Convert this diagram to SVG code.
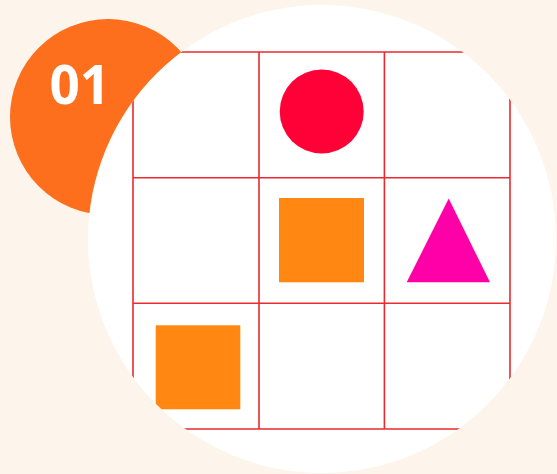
<svg xmlns="http://www.w3.org/2000/svg" width="557" height="474" viewBox="0 0 557 474">
<defs>
<style>
.bg{fill:#FDF5EB}
.grid line{stroke:#EA2A2E;stroke-width:1.6}
.num{font-family:"Open Sans","Noto Sans",sans-serif;font-weight:700;font-size:53px;fill:#FFFFFF}
</style>
<clipPath id="board"><circle cx="322" cy="239" r="234"/></clipPath>
</defs>
<rect class="bg" x="0" y="0" width="557" height="474"/>
<g id="badge">
<circle cx="108" cy="117" r="98" fill="#FD6F1C"/>
<text class="num" x="49.5" y="103.5">01</text>
</g>
<g id="board-circle">
<circle cx="322" cy="239" r="234" fill="#FFFFFF"/>
</g>
<g clip-path="url(#board)">
<g id="shape-circle"><circle cx="321.7" cy="111.5" r="42" fill="#FF0037"/></g>
<g id="shape-square-center"><rect x="279" y="198" width="85" height="84.3" fill="#FF8712"/></g>
<g id="shape-triangle"><polygon points="448.7,198.5 490,282.3 406.7,282.3" fill="#FF00A8"/></g>
<g id="shape-square-bottom"><rect x="155.7" y="325.3" width="84.6" height="84" fill="#FF8712"/></g>
<g class="grid" id="grid">
<line x1="133" y1="52" x2="510" y2="52"/>
<line x1="133" y1="177.7" x2="510" y2="177.7"/>
<line x1="133" y1="303.3" x2="510" y2="303.3"/>
<line x1="133" y1="429" x2="510" y2="429"/>
<line x1="133" y1="52" x2="133" y2="429"/>
<line x1="259" y1="52" x2="259" y2="429"/>
<line x1="384.4" y1="52" x2="384.4" y2="429"/>
<line x1="510" y1="52" x2="510" y2="429"/>
</g>
</g>
</svg>
